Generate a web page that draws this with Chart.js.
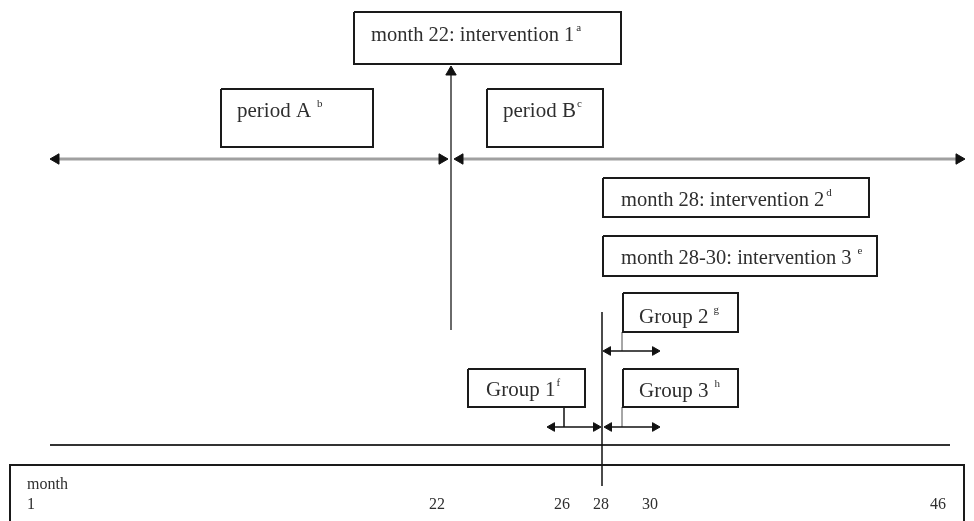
<!DOCTYPE html>
<html>
<head>
<meta charset="utf-8">
<script src="https://cdn.jsdelivr.net/npm/chart.js@4/dist/chart.umd.min.js"></script>
<style>
  html, body { margin: 0; padding: 0; background: #ffffff; }
  #wrap { width: 974px; height: 521px; position: relative; }
</style>
</head>
<body>
<div id="wrap"><canvas id="c" width="974" height="521"></canvas></div>
<script>
// ---------- content ----------
const monthTitle = 'month';
const monthTicks = ['1', '22', '26', '28', '30', '46'];
const boxTexts = ['month 22: intervention 1', 'period A', 'period B',
  'month 28: intervention 2', 'month 28-30: intervention 3',
  'Group 2', 'Group 1', 'Group 3'];
const boxSups = ['a', 'b', 'c', 'd', 'e', 'g', 'f', 'h'];

// ---------- layout (diagram units, y grows downward) ----------
const boxRects = [ // [left, top, right, bottom]
  [354, 12, 621, 64],
  [221, 89, 373, 147],
  [487, 89, 603, 147],
  [603, 178, 869, 217],
  [603, 236, 877, 276],
  [623, 293, 738, 332],
  [468, 369, 585, 407],
  [623, 369, 738, 407]
];
const boxTextPos = [[371, 41], [237, 117], [503, 117], [621, 206], [621, 264], [639, 323], [486, 396], [639, 397]];
const boxTextSize = [20.5, 21, 21, 20.5, 20.5, 21, 21, 21];
const boxSupGap = [2, 6, 1, 2, 6, 5, 1, 6];
const tickPos = [[27, 509], [437, 509], [562, 509], [601, 509], [650, 509], [938, 509]];
const titlePos = [27, 489];

// arrows: [x1, y1, x2, y2, headAtStart, headAtEnd, color, width, headSize]
const arrows = [
  [451, 330, 451, 66, false, true, '#6a6a6a', 2, 6],
  [50, 159, 448, 159, true, true, '#a0a0a0', 3, 6],
  [454, 159, 965, 159, true, true, '#a0a0a0', 3, 6],
  [602, 312, 602, 486, false, false, '#111111', 1.5, 0],
  [603, 351, 660, 351, true, true, '#111111', 1.5, 5],
  [622, 332, 622, 351, false, false, '#9a9a9a', 1, 0],
  [547, 427, 601, 427, true, true, '#111111', 1.5, 5],
  [564, 407, 564, 427, false, false, '#111111', 1.5, 0],
  [604, 427, 660, 427, true, true, '#111111', 1.5, 5],
  [622, 407, 622, 427, false, false, '#9a9a9a', 1, 0],
  [50, 445, 950, 445, false, false, '#333333', 2, 0]
];
const frame = [[10, 540], [10, 465], [964, 465], [964, 540]];

// ---------- datasets ----------
const datasets = [];
boxRects.forEach(r => {
  datasets.push({
    data: [{x: r[0], y: r[1]}, {x: r[2], y: r[1]}, {x: r[2], y: r[3]}, {x: r[0], y: r[3]}, {x: r[0], y: r[1]}],
    showLine: true, borderColor: '#1a1a1a', borderWidth: 2, pointRadius: 0, fill: false,
    borderJoinStyle: 'miter', tension: 0
  });
});
datasets.push({
  data: frame.map(p => ({x: p[0], y: p[1]})),
  showLine: true, borderColor: '#1a1a1a', borderWidth: 2, pointRadius: 0, fill: false,
  borderJoinStyle: 'miter', tension: 0
});
arrows.forEach(a => {
  const [x1, y1, x2, y2, hs, he, col, w, hsz] = a;
  const len = Math.hypot(x2 - x1, y2 - y1);
  const dx = (x2 - x1) / len, dy = (y2 - y1) / len;
  const p1 = hs ? {x: x1 + dx * hsz, y: y1 + dy * hsz} : {x: x1, y: y1};
  const p2 = he ? {x: x2 - dx * hsz, y: y2 - dy * hsz} : {x: x2, y: y2};
  const angEnd = Math.atan2(dx, -dy) * 180 / Math.PI;
  const angStart = angEnd + 180;
  datasets.push({
    data: [p1, p2],
    showLine: true, borderColor: col, borderWidth: w, fill: false, tension: 0,
    pointStyle: 'triangle',
    pointRadius: [hs ? hsz : 0, he ? hsz : 0],
    pointHoverRadius: 0,
    pointRotation: [angStart, angEnd],
    pointBackgroundColor: '#111111', pointBorderColor: '#111111', pointBorderWidth: 1
  });
});

// ---------- text plugin ----------
const textPlugin = {
  id: 'diagramText',
  afterDatasetsDraw(chart) {
    const ctx = chart.ctx, xs = chart.scales.x, ys = chart.scales.y;
    ctx.save();
    ctx.fillStyle = '#2e2e2e';
    ctx.textBaseline = 'alphabetic';
    ctx.textAlign = 'left';
    boxTexts.forEach((t, i) => {
      const px = xs.getPixelForValue(boxTextPos[i][0]);
      const py = ys.getPixelForValue(boxTextPos[i][1]);
      ctx.font = boxTextSize[i] + 'px "Liberation Serif", "Times New Roman", serif';
      ctx.fillText(t, px, py);
      const w = ctx.measureText(t).width;
      ctx.font = '11px "Liberation Serif", "Times New Roman", serif';
      ctx.fillText(boxSups[i], px + w + boxSupGap[i], py - 10);
    });
    ctx.font = '16px "Liberation Serif", "Times New Roman", serif';
    ctx.fillText(monthTitle, xs.getPixelForValue(titlePos[0]), ys.getPixelForValue(titlePos[1]));
    monthTicks.forEach((t, i) => {
      ctx.textAlign = i === 0 ? 'left' : 'center';
      ctx.fillText(t, xs.getPixelForValue(tickPos[i][0]), ys.getPixelForValue(tickPos[i][1]));
    });
    ctx.restore();
  }
};

new Chart(document.getElementById('c'), {
  type: 'scatter',
  data: { datasets },
  options: {
    responsive: false,
    animation: false,
    events: [],
    layout: { padding: 0, autoPadding: false },
    scales: {
      x: { type: 'linear', min: 0, max: 974, display: false },
      y: { type: 'linear', min: 0, max: 521, reverse: true, display: false }
    },
    plugins: { legend: { display: false }, tooltip: { enabled: false } }
  },
  plugins: [textPlugin]
});
</script>
</body>
</html>
